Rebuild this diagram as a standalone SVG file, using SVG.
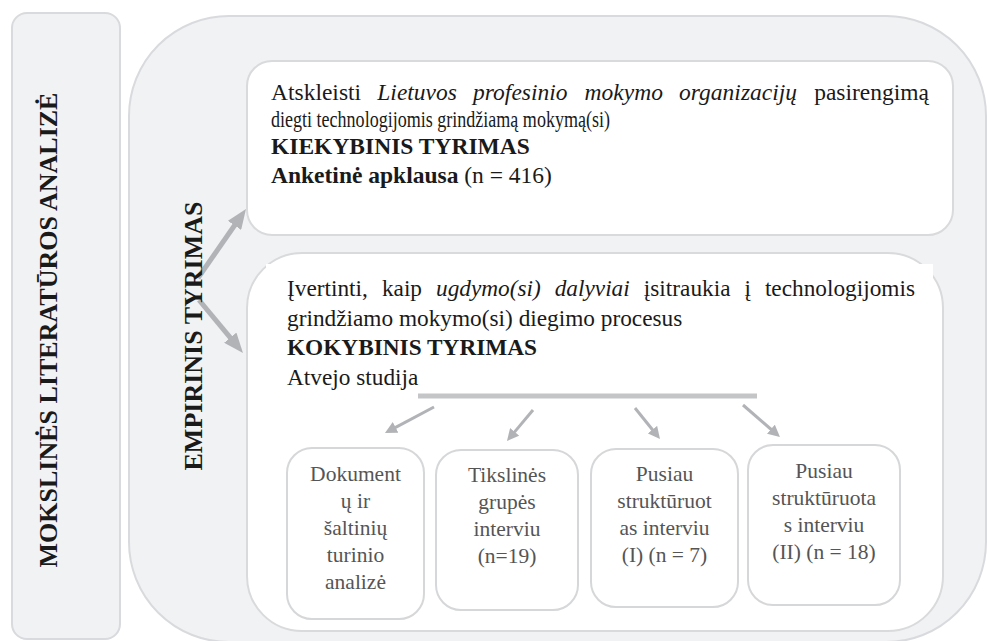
<svg xmlns="http://www.w3.org/2000/svg" width="988" height="641" viewBox="0 0 988 641" font-family="'Liberation Serif', 'Times New Roman', serif">
<style>
text, tspan{font-family:"Liberation Serif","Times New Roman",serif}
text{fill:#1a1a1a}
.panel{fill:#f1f2f4;stroke:#d9dadd;stroke-width:2}
.box{fill:#ffffff;stroke:#d9dadc;stroke-width:2}
.sbox{fill:#ffffff;stroke:#d6d7d9;stroke-width:2}
.t1{font-size:23.5px}
.t2{font-size:23.3px}
.b{font-weight:bold}
.i{font-style:italic}
.vt{font-size:26px;font-weight:bold;text-anchor:middle}
.st{font-size:21.5px;fill:#555555;text-anchor:middle}
.big{stroke:#b2b3b6;stroke-width:5;fill:none;marker-end:url(#hb)}
.sm{stroke:#b2b3b6;stroke-width:3;fill:none;marker-end:url(#hs)}
</style>
<defs>
<marker id="hb" markerUnits="userSpaceOnUse" markerWidth="20" markerHeight="16" refX="2" refY="8" orient="auto"><path d="M0,0 L20,8 L0,16 z" fill="#b2b3b6"/></marker>
<marker id="hs" markerUnits="userSpaceOnUse" markerWidth="12" markerHeight="12" refX="2" refY="6" orient="auto"><path d="M0,0 L12,6 L0,12 z" fill="#b2b3b6"/></marker>
</defs>
<g id="literatura">
<rect class="panel" x="12" y="13" width="108" height="626" rx="15"/>
<text class="vt" transform="translate(57,330) rotate(-90)">MOKSLINĖS LITERATŪROS ANALIZĖ</text>
</g>
<g id="empirinis">
<rect class="panel" x="129" y="16" width="857" height="626" rx="100"/>
</g>
<g id="kiekybinis">
<rect class="box" x="247" y="61" width="706" height="174" rx="25"/>
<text class="t1" y="100"><tspan x="271">Atskleisti</tspan><tspan class="i" x="377.3">Lietuvos</tspan><tspan class="i" x="473.1">profesinio</tspan><tspan class="i" x="584.6">mokymo</tspan><tspan class="i" x="679.1">organizacijų</tspan></text>
<text class="t1" x="929" y="100" text-anchor="end">pasirengimą</text>
<text class="t1" x="271" y="127" textLength="339" lengthAdjust="spacingAndGlyphs">diegti technologijomis grindžiamą mokymą(si)</text>
<text class="t1 b" x="271" y="154">KIEKYBINIS TYRIMAS</text>
<text class="t1" x="271" y="183"><tspan class="b">Anketinė apklausa</tspan> (n = 416)</text>
</g>
<g id="kokybinis">
<rect class="box" x="247" y="253" width="696" height="378" rx="55"/>
<rect x="266" y="264" width="667" height="130" fill="#ffffff"/>
<text class="t2" y="296"><tspan x="287">Įvertinti,</tspan><tspan x="381.9">kaip</tspan><tspan class="i" x="436">ugdymo(si)</tspan><tspan class="i" x="554.7">dalyviai</tspan><tspan x="643.8">įsitraukia</tspan><tspan x="744.4">į</tspan></text>
<text class="t2" x="915" y="296" text-anchor="end">technologijomis</text>
<text class="t2" x="287" y="326">grindžiamo mokymo(si) diegimo procesus</text>
<text class="t2 b" x="287" y="355">KOKYBINIS TYRIMAS</text>
<text class="t2" x="287" y="385">Atvejo studija</text>
</g>
<g id="dokumentu">
<rect class="sbox" x="287" y="448" width="137" height="171" rx="25"/>
<text class="st" x="355.5" y="481">Dokument</text>
<text class="st" x="355.5" y="508">ų ir</text>
<text class="st" x="355.5" y="535">šaltinių</text>
<text class="st" x="355.5" y="562">turinio</text>
<text class="st" x="355.5" y="589">analizė</text>
</g>
<g id="tiksline">
<rect class="sbox" x="436" y="450" width="142" height="160" rx="25"/>
<text class="st" x="507" y="482">Tikslinės</text>
<text class="st" x="507" y="509">grupės</text>
<text class="st" x="507" y="536">interviu</text>
<text class="st" x="507" y="563">(n=19)</text>
</g>
<g id="pusiau1">
<rect class="sbox" x="591" y="449" width="147" height="158" rx="25"/>
<text class="st" x="664.5" y="481">Pusiau</text>
<text class="st" x="664.5" y="508">struktūruot</text>
<text class="st" x="664.5" y="535">as interviu</text>
<text class="st" x="664.5" y="562">(I) (n = 7)</text>
</g>
<g id="pusiau2">
<rect class="sbox" x="748" y="445" width="152" height="160" rx="25"/>
<text class="st" x="824" y="478">Pusiau</text>
<text class="st" x="824" y="505">struktūruota</text>
<text class="st" x="824" y="532">s interviu</text>
<text class="st" x="824" y="559">(II) (n = 18)</text>
</g>
<g id="connectors">
<line class="big" x1="198" y1="278" x2="235.7" y2="223.8"/>
<line class="big" x1="199" y1="300" x2="231.5" y2="339.2"/>
<line x1="418" y1="396" x2="757" y2="396" stroke="#c4c5c7" stroke-width="5"/>
<line class="sm" x1="434" y1="407" x2="393.8" y2="428.3"/>
<line class="sm" x1="533" y1="410" x2="513.4" y2="433.4"/>
<line class="sm" x1="635" y1="408" x2="653.7" y2="431.2"/>
<line class="sm" x1="743" y1="405" x2="772.4" y2="430.5"/>
</g>
<g id="empirinis-label">
<text class="vt" transform="translate(202,336) rotate(-90)">EMPIRINIS TYRIMAS</text>
</g>
</svg>
